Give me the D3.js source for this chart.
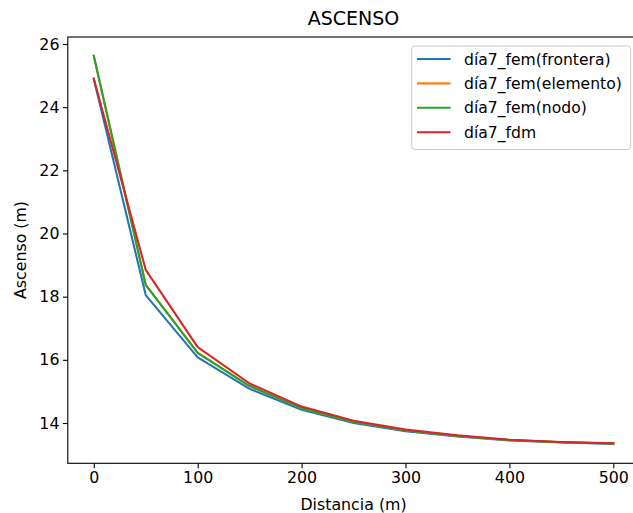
<!DOCTYPE html>
<html><head><meta charset="utf-8">
<script src="https://cdn.jsdelivr.net/npm/d3@7"></script>
<style>body{margin:0;background:#fff;}svg{display:block;font-family:"DejaVu Sans",sans-serif;}</style>
</head><body>
<svg id="c" width="633" height="513"></svg>
<script>
const distancia = [0, 50, 100, 150, 200, 250, 300, 350, 400, 450, 500];
const frontera = [24.9, 18.05, 16.08, 15.08, 14.42, 14.00, 13.74, 13.57, 13.45, 13.38, 13.34];
const elemento = [25.63, 18.37, 16.22, 15.17, 14.47, 14.04, 13.77, 13.59, 13.46, 13.39, 13.35];
const nodo = [25.63, 18.37, 16.22, 15.17, 14.47, 14.04, 13.77, 13.59, 13.46, 13.39, 13.35];
const fdm = [24.9, 18.85, 16.4, 15.25, 14.52, 14.07, 13.79, 13.61, 13.47, 13.40, 13.36];
const seriesNames = ["día7_fem(frontera)", "día7_fem(elemento)", "día7_fem(nodo)", "día7_fdm"];
const seriesColors = ["#1f77b4", "#ff7f0e", "#2ca02c", "#d62728"];
const xTicks = [0, 100, 200, 300, 400, 500];
const yTicks = [14, 16, 18, 20, 22, 24, 26];

const allSeries = [frontera, elemento, nodo, fdm];
const svg = d3.select("#c");
const L = 67.8, R = 639.3, T = 37, B = 463.3;
const x = d3.scaleLinear().domain([-25, 525]).range([L, R]);
const y = d3.scaleLinear().domain([14, 26]).range([423, 44]);

const xAxis = svg.append("g").attr("transform", `translate(0,${B})`)
  .call(d3.axisBottom(x).tickValues(xTicks).tickSize(4.86).tickPadding(3.5).tickFormat(d3.format("d")));
const yAxis = svg.append("g").attr("transform", `translate(${L},0)`)
  .call(d3.axisLeft(y).tickValues(yTicks).tickSize(4.86).tickPadding(3.5).tickFormat(d3.format("d")));
[xAxis, yAxis].forEach(g => {
  g.select(".domain").remove();
  g.selectAll("line").attr("stroke", "#000").attr("stroke-width", 1.1);
  g.selectAll("text").attr("font-size", 15.8).attr("fill", "#000").attr("font-family", "DejaVu Sans");
});

const line = d3.line().x((d, i) => x(distancia[i])).y(d => y(d));
allSeries.forEach((s, k) => {
  svg.append("path").datum(s).attr("d", line).attr("fill", "none")
    .attr("stroke", seriesColors[k]).attr("stroke-width", 2.08)
    .attr("stroke-linejoin", "round").attr("stroke-linecap", "square");
});

svg.append("rect").attr("x", L).attr("y", T).attr("width", R - L).attr("height", B - T)
  .attr("fill", "none").attr("stroke", "#000").attr("stroke-width", 1.1);

svg.append("text").attr("x", (L + R) / 2).attr("y", 25).attr("text-anchor", "middle")
  .attr("font-size", 19).text("ASCENSO");
svg.append("text").attr("x", (L + R) / 2).attr("y", 509.5).attr("text-anchor", "middle")
  .attr("font-size", 15.8).text("Distancia (m)");
svg.append("text").attr("transform", "translate(26,250) rotate(-90)").attr("text-anchor", "middle")
  .attr("font-size", 15.8).text("Ascenso (m)");

const lg = svg.append("g");
lg.append("rect").attr("x", 411.7).attr("y", 46).attr("width", 219).attr("height", 103.5)
  .attr("rx", 3).attr("fill", "#fff").attr("fill-opacity", 0.8)
  .attr("stroke", "#cccccc").attr("stroke-width", 1);
seriesNames.forEach((n, k) => {
  const yy = 59 + k * 24.4;
  lg.append("line").attr("x1", 417).attr("x2", 450.5).attr("y1", yy).attr("y2", yy)
    .attr("stroke", seriesColors[k]).attr("stroke-width", 2.08);
  lg.append("text").attr("x", 464).attr("y", yy + 5.6).attr("font-size", 15.6).text(n);
});
</script>
</body></html>
